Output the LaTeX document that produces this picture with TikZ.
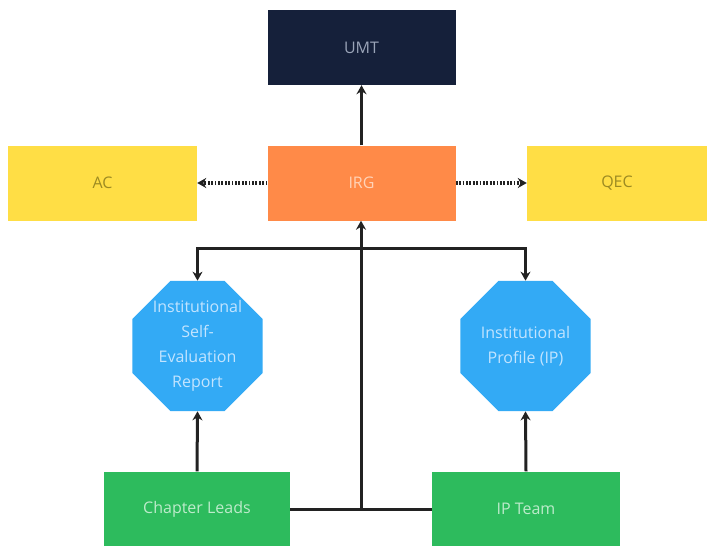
\documentclass[tikz,border=0pt]{standalone}
\usepackage{fontspec}
\setmainfont{Open Sans}
\usetikzlibrary{shapes.geometric,arrows.meta,calc}
\definecolor{navy}{HTML}{15203A}
\definecolor{navytxt}{HTML}{9AA4B8}
\definecolor{orng}{HTML}{FF8A48}
\definecolor{orngtxt}{HTML}{FFD3B8}
\definecolor{yel}{HTML}{FFDE45}
\definecolor{yeltxt}{HTML}{9C8A22}
\definecolor{blu}{HTML}{33AAF5}
\definecolor{blutxt}{HTML}{C2E4FF}
\definecolor{grn}{HTML}{2DBB5D}
\definecolor{grntxt}{HTML}{BDEBCB}
\definecolor{lin}{HTML}{222222}
\tikzset{
  rbox/.style={rectangle, inner sep=0pt, minimum width=188pt, minimum height=75pt, font=\fontsize{16}{18}\selectfont},
  octo/.style={regular polygon, regular polygon sides=8, inner sep=0pt, minimum size=141pt, fill=blu, text=blutxt, align=center, font=\fontsize{16}{25}\selectfont},
  conn/.style={draw=lin, line width=3pt},
  arr/.style={conn, -{Stealth[length=9pt,width=10pt]}},
  darr/.style={draw=lin, line width=3.4pt, dash pattern=on 1.8pt off 1.6pt, -{Stealth[length=9pt,width=10pt]}}
}
\begin{document}
\begin{tikzpicture}[x=1pt,y=-1pt]
\useasboundingbox (0,0) rectangle (707,546);
\node[rbox, fill=navy, text=navytxt] (umt) at (361.5,47.5) {UMT};
\node[rbox, fill=orng, text=orngtxt] (irg) at (361.5,183) {IRG};
\node[rbox, fill=yel, text=yeltxt, minimum width=189pt] (ac) at (102.5,183) {AC};
\node[rbox, fill=yel, text=yeltxt, minimum width=180pt] (qec) at (617,183) {QEC};
\node[octo] (ise) at (197.5,346) {Institutional\\Self-\\Evaluation\\Report};
\node[octo] (ipp) at (525.5,346) {Institutional\\Profile (IP)};
\node[rbox, fill=grn, text=grntxt, minimum width=186pt] (cl) at (197,509) {Chapter Leads};
\node[rbox, fill=grn, text=grntxt, minimum width=188pt] (ipt) at (526,509) {IP Team};
\coordinate (j) at ($(cl.east)!0.5!(ipt.west)$);
\coordinate (t) at (j |- 0,248);
\draw[arr] (irg.north) -- (umt.south);
\draw[darr] (irg.west) -- (ac.east);
\draw[darr] (irg.east) -- (qec.west);
\draw[conn] (cl.east) -- (ipt.west);
\draw[arr] (j) -- (j |- irg.south);
\draw[arr] (t) -| (ise.north);
\draw[arr] (t) -| (ipp.north);
\draw[arr] (cl.north) -- (ise.south);
\draw[arr] (ipt.north) -- (ipp.south);
\end{tikzpicture}
\end{document}
